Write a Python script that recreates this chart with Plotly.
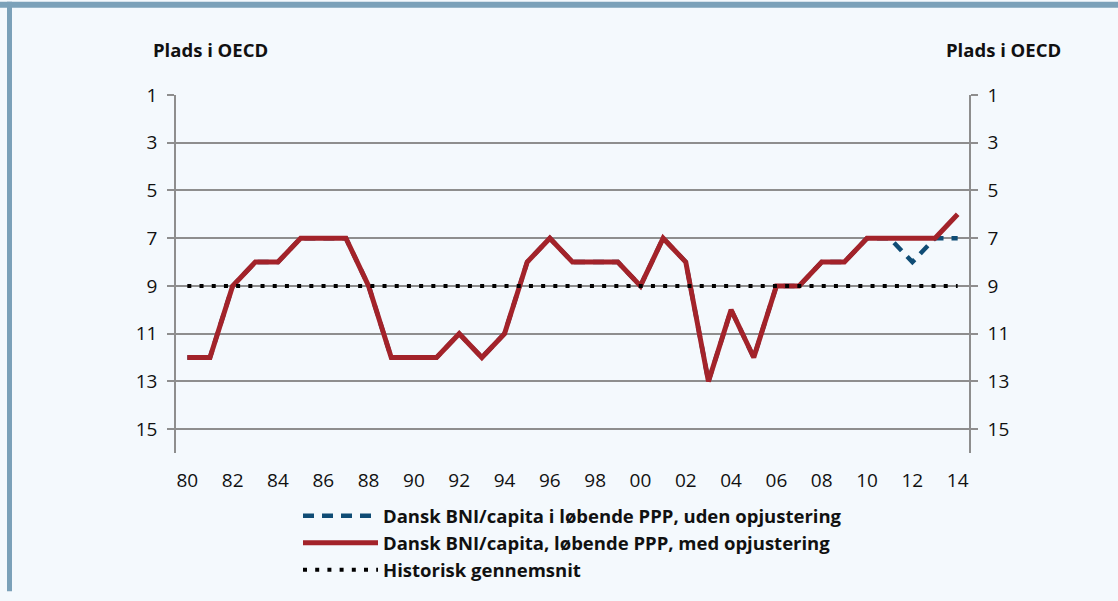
import plotly.graph_objects as go

# ---- data ----
years = list(range(1980, 2015))
med_opjustering = [12, 12, 9, 8, 8, 7, 7, 7, 9, 12, 12, 12, 11, 12, 11, 8, 7, 8, 8, 8,
                   9, 7, 8, 13, 10, 12, 9, 9, 8, 8, 7, 7, 7, 7, 6]
uden_opjustering = [12, 12, 9, 8, 8, 7, 7, 7, 9, 12, 12, 12, 11, 12, 11, 8, 7, 8, 8, 8,
                    9, 7, 8, 13, 10, 12, 9, 9, 8, 8, 7, 7, 8, 7, 7]
historisk_gennemsnit = [9] * len(years)
x_tickvals = list(range(1980, 2015, 2))
x_ticktext = ["80", "82", "84", "86", "88", "90", "92", "94", "96", "98",
              "00", "02", "04", "06", "08", "10", "12", "14"]
y_tickvals = [1, 3, 5, 7, 9, 11, 13, 15]

# ---- layout geometry ----
W, H = 1118, 601
L, R, T, B = 176, 149, 95, 141
PW, PH = W - L - R, H - T - B

def px(x):
    return (x - L) / PW

def py(y):
    return (H - B - y) / PH

BG = "#F4F9FD"
FRAME = "#7BA1B9"
GRID = "#8E8E8E"
RED = "#A3232A"
BLUE = "#0F4C75"
FONT = "Open Sans"
TXT = "#111111"

fig = go.Figure()
fig.add_trace(go.Scatter(x=years, y=uden_opjustering, mode="lines",
                         name="Dansk BNI/capita i løbende PPP, uden opjustering",
                         line=dict(color=BLUE, width=4.5, dash="11px,8px")))
fig.add_trace(go.Scatter(x=years, y=med_opjustering, mode="lines",
                         name="Dansk BNI/capita, løbende PPP, med opjustering",
                         line=dict(color=RED, width=5)))
fig.add_trace(go.Scatter(x=years, y=historisk_gennemsnit, mode="lines", yaxis="y2",
                         name="Historisk gennemsnit",
                         line=dict(color="#000000", width=4, dash="4px,8.2px")))

yax = dict(range=[16, 1], autorange=False, tickvals=y_tickvals,
           showline=True, linecolor=GRID, linewidth=1.5,
           ticks="outside", ticklen=7, tickcolor=GRID, tickwidth=1.5,
           zeroline=False, tickfont=dict(family=FONT, size=19, color=TXT))

fig.update_layout(
    width=W, height=H,
    margin=dict(l=L, r=R, t=T, b=B),
    paper_bgcolor=BG, plot_bgcolor=BG,
    showlegend=True,
    hovermode=False,
    xaxis=dict(range=[1979.5, 2014.5], tickvals=x_tickvals, ticktext=x_ticktext,
               showgrid=False, zeroline=False, showline=False, ticks="",
               ticklabelstandoff=14,
               tickfont=dict(family=FONT, size=19, color=TXT)),
    yaxis=dict(**yax, showgrid=True, gridcolor=GRID, gridwidth=1.5,
               ticklabelstandoff=6),
    yaxis2=dict(**yax, overlaying="y", side="right", showgrid=False,
                ticklabelstandoff=6),
    legend=dict(x=px(298), y=py(505), xanchor="left", yanchor="top",
                bgcolor="rgba(0,0,0,0)", itemwidth=75,
                font=dict(family=FONT, size=18.5, color=TXT, weight="bold"),
                tracegroupgap=0),
    shapes=[
        dict(type="rect", xref="paper", yref="paper", x0=px(0), x1=px(W),
             y0=py(6), y1=py(0), fillcolor=FRAME, line=dict(width=0), layer="below"),
        dict(type="rect", xref="paper", yref="paper", x0=px(7), x1=px(12),
             y0=py(H), y1=py(0), fillcolor=FRAME, line=dict(width=0), layer="below"),
    ],
    annotations=[
        dict(text="<b>Plads i OECD</b>", xref="paper", yref="paper", x=px(210), y=py(49),
             xanchor="center", yanchor="middle", showarrow=False,
             font=dict(family=FONT, size=18.5, color=TXT)),
        dict(text="<b>Plads i OECD</b>", xref="paper", yref="paper", x=px(1003), y=py(49),
             xanchor="center", yanchor="middle", showarrow=False,
             font=dict(family=FONT, size=18.5, color=TXT)),
    ],
)

fig.write_html("out.html", config={"displayModeBar": False},
               post_script="document.body.style.margin='0';document.body.style.background='" + BG + "';")
